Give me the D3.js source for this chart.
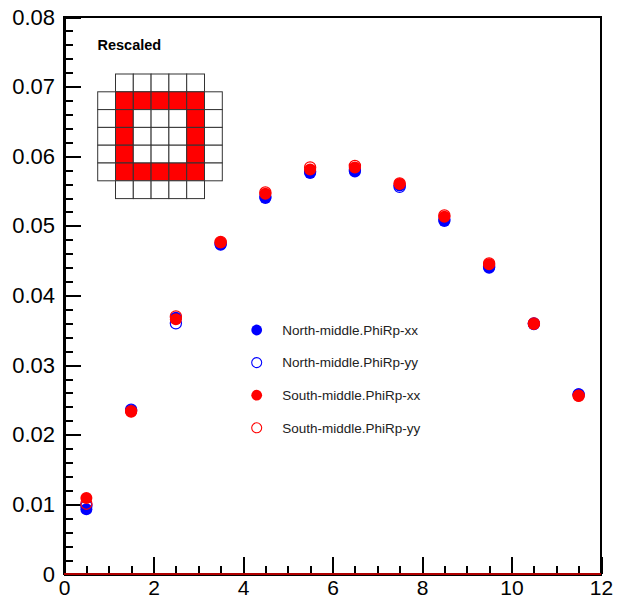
<!DOCTYPE html>
<html>
<head>
<meta charset="utf-8">
<script src="https://cdn.jsdelivr.net/npm/d3@7/dist/d3.min.js"></script>
<style>
  html, body { margin: 0; padding: 0; background: #fff; }
  svg { display: block; font-family: "Liberation Sans", Arial, Helvetica, sans-serif; }
</style>
</head>
<body>
<svg id="chart" width="618" height="600"></svg>
<script>
// Bin centres (x) and per-bin values for each series
const binCenters = [0.5, 1.5, 2.5, 3.5, 4.5, 5.5, 6.5, 7.5, 8.5, 9.5, 10.5, 11.5];
const northXX = [0.0093, 0.0235, 0.0368, 0.0473, 0.0540, 0.0576, 0.0578, 0.0558, 0.0507, 0.0440, 0.0360, 0.0258];
const northYY = [0.0098, 0.0236, 0.0360, 0.0474, 0.0542, 0.0578, 0.0580, 0.0556, 0.0509, 0.0441, 0.0359, 0.0258];
const southXX = [0.0109, 0.0233, 0.0366, 0.0476, 0.0546, 0.0581, 0.0584, 0.0560, 0.0513, 0.0445, 0.0359, 0.0256];
const southYY = [0.0101, 0.0234, 0.0370, 0.0477, 0.0548, 0.0584, 0.0586, 0.0561, 0.0515, 0.0446, 0.0360, 0.0256];

const seriesNames = ["North-middle.PhiRp-xx", "North-middle.PhiRp-yy", "South-middle.PhiRp-xx", "South-middle.PhiRp-yy"];
const seriesColors = ["#0000ff", "#0000ff", "#ff0000", "#ff0000"];
const seriesFilled = [true, false, true, false];
const seriesValues = [northXX, northYY, southXX, southYY];

// Axis ticks
const xMajorTicks = [0, 2, 4, 6, 8, 10, 12];
const yMajorTicks = [0, 0.01, 0.02, 0.03, 0.04, 0.05, 0.06, 0.07, 0.08];
const xDomain = [0, 12];
const yDomain = [0, 0.08];

// Inset tile map: "." = empty cell, "#" = highlighted cell, " " = no cell
const insetTitle = "Rescaled";
const insetMask = [
  " ..... ",
  ".#####.",
  ".#...#.",
  ".#...#.",
  ".#...#.",
  ".#####.",
  " ..... "
];

const svg = d3.select("#chart");
const frame = { left: 64, right: 601, top: 17, bottom: 574 };

const x = d3.scaleLinear().domain(xDomain).range([frame.left, frame.right]);
const y = d3.scaleLinear().domain(yDomain).range([frame.bottom, frame.top]);

// Minor tick positions derived from the major spacing
const xMinor = d3.range(xDomain[0], xDomain[1] + 1e-9, 0.5).filter(v => Math.abs(v % 2) > 1e-9);
const yMinor = d3.range(0, 0.08 + 1e-9, 0.002).filter(v => Math.abs((v / 0.01) - Math.round(v / 0.01)) > 1e-6);

const fmtY = v => v === 0 ? "0" : v.toFixed(2);

// Y axis (ticks drawn inward)
svg.append("g").attr("transform", `translate(${frame.left},0)`)
  .call(d3.axisLeft(y).tickValues(yMajorTicks).tickFormat(fmtY).tickSizeInner(-17).tickSizeOuter(0).tickPadding(9));
svg.append("g").attr("transform", `translate(${frame.left},0)`)
  .call(d3.axisLeft(y).tickValues(yMinor).tickFormat("").tickSizeInner(-8.5).tickSizeOuter(0))
  .call(g => g.select(".domain").remove());

// X axis (ticks drawn inward)
const gx = svg.append("g").attr("transform", `translate(0,${frame.bottom})`)
  .call(d3.axisBottom(x).tickValues(xMajorTicks).tickFormat(d3.format("d")).tickSizeInner(-17).tickSizeOuter(0).tickPadding(6));
svg.append("g").attr("transform", `translate(0,${frame.bottom})`)
  .call(d3.axisBottom(x).tickValues(xMinor).tickFormat("").tickSizeInner(-8.5).tickSizeOuter(0))
  .call(g => g.select(".domain").remove());

svg.selectAll(".tick line").attr("stroke", "#000").attr("stroke-width", 2).attr("shape-rendering", "crispEdges");
svg.selectAll(".domain").attr("stroke", "#000").attr("stroke-width", 2.5).attr("shape-rendering", "crispEdges");
svg.selectAll(".tick text").attr("fill", "#000").style("font-size", "22px");
gx.selectAll(".tick text").style("font-size", "21px");

// Top and right frame lines
svg.append("line").attr("x1", x(xDomain[0]) - 1).attr("x2", x(xDomain[1]) + 1)
  .attr("y1", y(yDomain[1])).attr("y2", y(yDomain[1])).attr("stroke", "#000").attr("stroke-width", 2)
  .attr("shape-rendering", "crispEdges");
svg.append("line").attr("x1", x(xDomain[1])).attr("x2", x(xDomain[1]))
  .attr("y1", y(yDomain[1])).attr("y2", y(yDomain[0])).attr("stroke", "#000").attr("stroke-width", 2)
  .attr("shape-rendering", "crispEdges");

// Zero line of the histogram along the x axis
svg.append("line").attr("x1", x(xDomain[0])).attr("x2", x(xDomain[1]))
  .attr("y1", y(0)).attr("y2", y(0)).attr("stroke", "#b00000").attr("stroke-width", 2)
  .attr("shape-rendering", "crispEdges");

// Inset: title and tile map
svg.append("text").attr("x", 97.5).attr("y", 50).attr("font-weight", "bold")
  .style("font-size", "14.5px").attr("fill", "#000").text(insetTitle);

const cell = 17.8;
const insetX = d3.scaleBand().domain(d3.range(7)).range([97.7, 97.7 + 7 * cell]);
const insetY = d3.scaleBand().domain(d3.range(insetMask.length)).range([74, 74 + insetMask.length * cell]);
const cells = [];
insetMask.forEach((row, r) => row.split("").forEach((ch, c) => { if (ch !== " ") cells.push({ r, c, on: ch === "#" }); }));
svg.append("g").selectAll("rect").data(cells).join("rect")
  .attr("x", d => insetX(d.c)).attr("y", d => insetY(d.r))
  .attr("width", insetX.bandwidth()).attr("height", insetY.bandwidth())
  .attr("fill", d => d.on ? "#ff0000" : "#fff")
  .attr("stroke", "#333").attr("stroke-width", 1);

// Data markers, drawn series by series
seriesValues.forEach((vals, i) => {
  svg.append("g").selectAll("circle").data(vals).join("circle")
    .attr("cx", (d, j) => x(binCenters[j]))
    .attr("cy", d => y(d))
    .attr("r", seriesFilled[i] ? 6 : 5.6)
    .attr("fill", seriesFilled[i] ? seriesColors[i] : "none")
    .attr("stroke", seriesFilled[i] ? "none" : seriesColors[i])
    .attr("stroke-width", 1.2);
});

// Legend
const legend = svg.append("g");
const legendRows = legend.selectAll("g").data(seriesNames).join("g")
  .attr("transform", (d, i) => `translate(256.7,${330 + i * 32.6})`);
legendRows.append("circle")
  .attr("r", (d, i) => seriesFilled[i] ? 5.4 : 5)
  .attr("fill", (d, i) => seriesFilled[i] ? seriesColors[i] : "none")
  .attr("stroke", (d, i) => seriesFilled[i] ? "none" : seriesColors[i])
  .attr("stroke-width", 1.1);
legendRows.append("text")
  .attr("x", 25.5).attr("y", 4.8)
  .style("font-size", "13.5px").attr("fill", "#222")
  .text(d => d);
</script>
</body>
</html>
